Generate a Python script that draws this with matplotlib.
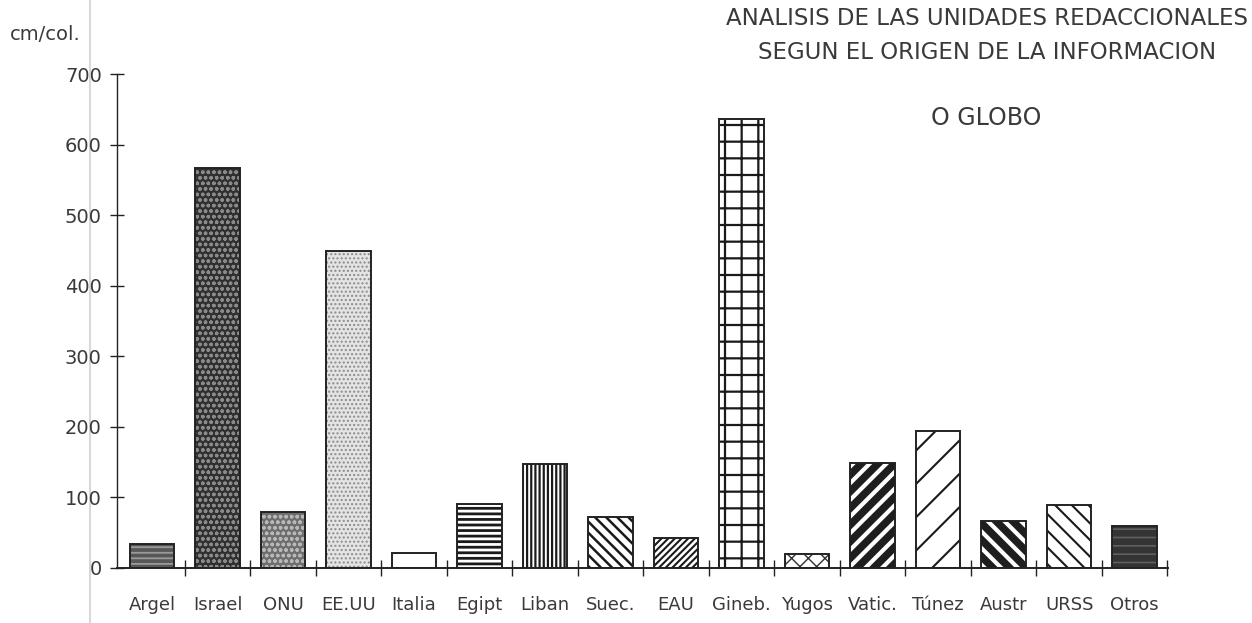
import matplotlib
matplotlib.use("Agg")
import matplotlib.pyplot as plt
from matplotlib.lines import Line2D
import numpy as np

categories = ["Argel", "Israel", "ONU", "EE.UU", "Italia", "Egipt", "Liban", "Suec.",
              "EAU", "Gineb.", "Yugos", "Vatic.", "Túnez", "Austr", "URSS", "Otros"]
values = [34, 567, 79, 449, 21, 91, 147, 72, 42, 636, 20, 149, 194, 67, 89, 59]
y_ticks = [0, 100, 200, 300, 400, 500, 600, 700]

# fill colour, hatch, hatch colour, hatch linewidth
styles = [
    ("#575757", "---", "#9a9a9a", 1.3),
    ("#303030", "ooo", "#8a8a8a", 1.0),
    ("#6e6e6e", "ooo", "#b8b8b8", 1.0),
    ("#e4e4e4", "....", "#8c8c8c", 1.0),
    ("#ffffff", "", "#222222", 1.0),
    ("#ffffff", "---", "#1a1a1a", 2.0),
    ("#ffffff", "||||", "#1a1a1a", 1.6),
    ("#ffffff", "\\\\\\", "#1a1a1a", 1.8),
    ("#ffffff", "/////", "#1a1a1a", 1.5),
    ("#ffffff", "+", "#1a1a1a", 1.6),
    ("#ffffff", "xx", "#333333", 1.0),
    ("#1e1e1e", "//", "#ffffff", 3.0),
    ("#ffffff", "/", "#1a1a1a", 1.5),
    ("#1e1e1e", "\\\\", "#ffffff", 3.0),
    ("#ffffff", "\\\\", "#1a1a1a", 1.5),
    ("#343434", "--", "#606060", 1.2),
]

text_col = "#3a3a3a"
line_col = "#222222"

fig = plt.figure(figsize=(12.52, 6.23), dpi=100)
ax = fig.add_axes([0.0935, 0.0883, 0.933 - 0.0935, 0.881 - 0.0883])

x = np.arange(len(categories))
w = 0.68
for i, (v, st) in enumerate(zip(values, styles)):
    face, hatch, hcol, hlw = st
    plt.rcParams['hatch.linewidth'] = hlw
    b = ax.bar(x[i], v, width=w, color=face, edgecolor=hcol, linewidth=0,
               hatch=hatch, zorder=2)
    for p in b:
        if hasattr(p, "set_hatch_linewidth"):
            p.set_hatch_linewidth(hlw)
    ax.bar(x[i], v, width=w, fill=False, edgecolor=line_col, linewidth=1.4, zorder=3)

ax.set_xlim(-0.534, 15.51)
ax.set_ylim(0, 700)

for s in ["top", "right"]:
    ax.spines[s].set_visible(False)
ax.spines["left"].set_color(line_col)
ax.spines["bottom"].set_color(line_col)
ax.spines["left"].set_linewidth(1.0)
ax.spines["bottom"].set_linewidth(1.4)

ax.set_yticks(y_ticks)
ax.set_yticklabels([str(t) for t in y_ticks], fontsize=14, color=text_col)
ax.tick_params(axis="y", direction="inout", length=10, width=1.0, color=line_col, pad=6)

ax.set_xticks(x)
ax.set_xticklabels(categories, fontsize=13, color=text_col)
ax.tick_params(axis="x", which="major", length=0, pad=20)
ax.set_xticks(np.arange(len(categories)) + 0.5, minor=True)
ax.tick_params(axis="x", which="minor", direction="inout", length=12, width=1.0, color=line_col)

fig.text(0.0075, 0.944, "cm/col.", fontsize=14, color=text_col, ha="left", va="center")
fig.text(0.788, 0.970, "ANALISIS DE LAS UNIDADES REDACCIONALES", fontsize=16.5,
         color=text_col, ha="center", va="center")
fig.text(0.788, 0.916, "SEGUN EL ORIGEN DE LA INFORMACION", fontsize=16.5,
         color=text_col, ha="center", va="center")
fig.text(0.788, 0.810, "O GLOBO", fontsize=17, color=text_col, ha="center", va="center")

# faint scan edge line
fig.add_artist(Line2D([0.0715, 0.0715], [0.0, 1.0], transform=fig.transFigure,
                      color="#d8d8d8", linewidth=1.5, zorder=0))

fig.savefig("out.png", dpi=100, facecolor="white")
